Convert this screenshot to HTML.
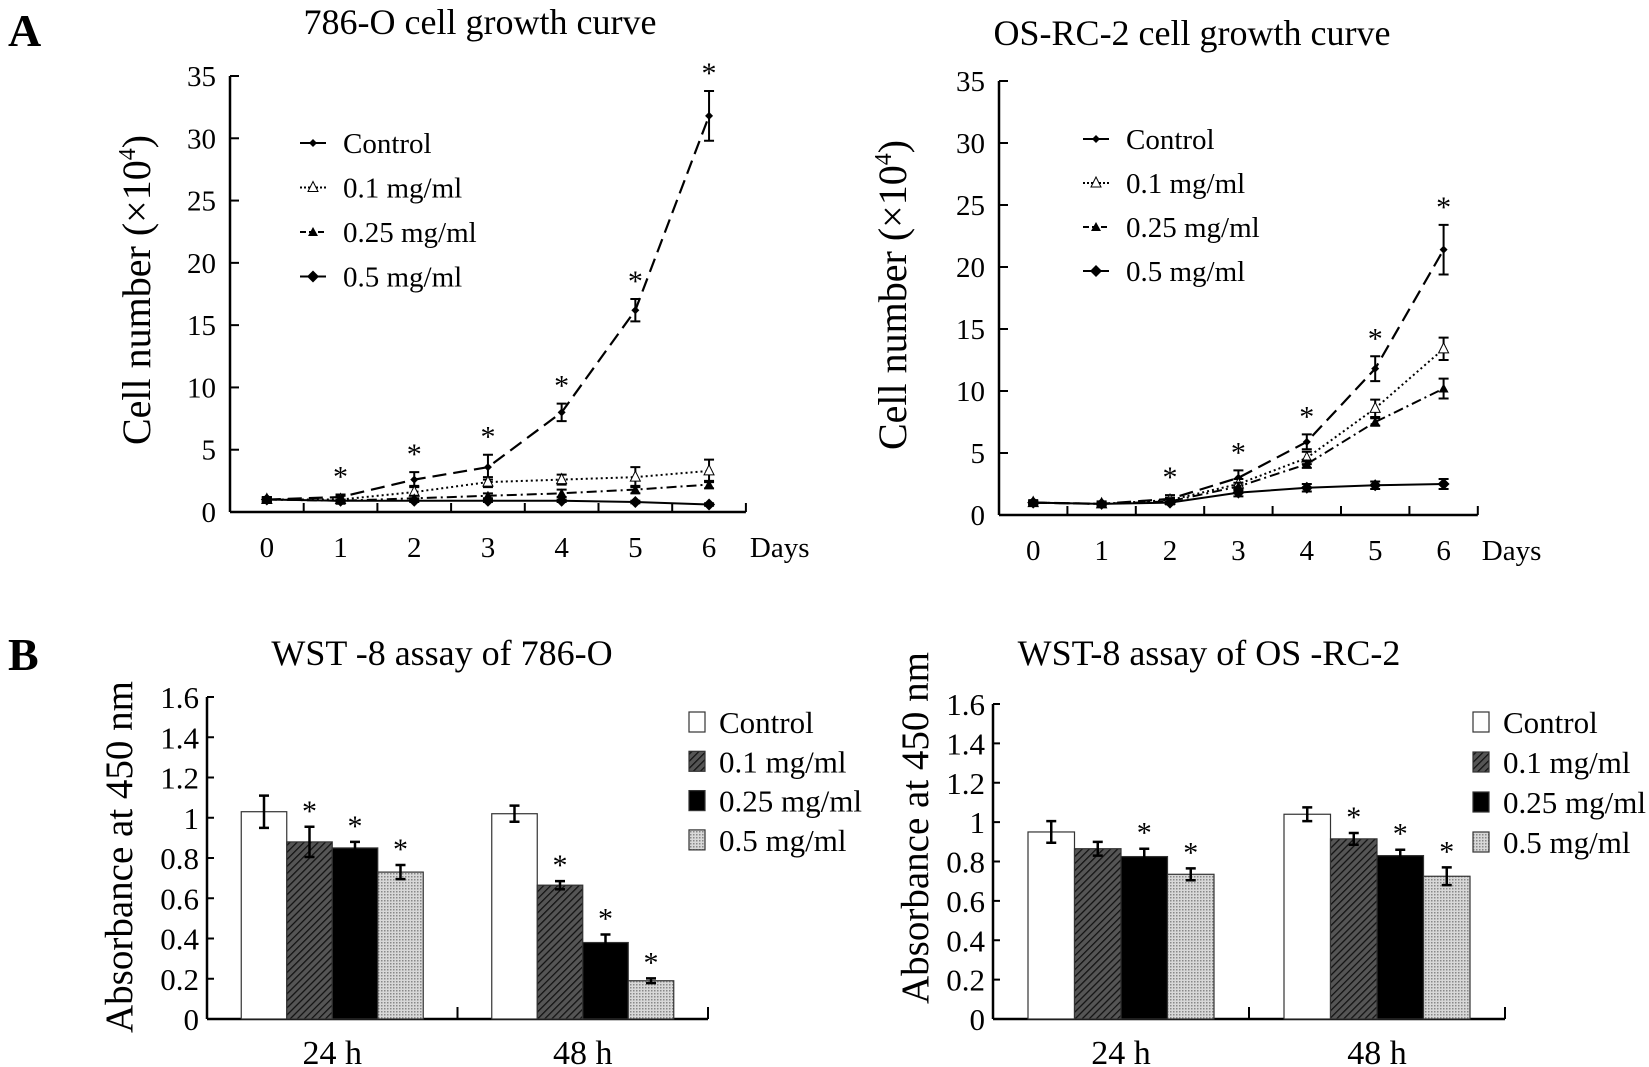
<!DOCTYPE html>
<html><head><meta charset="utf-8">
<style>
html,body{margin:0;padding:0;background:#fff;}
svg{display:block;font-family:"Liberation Serif",serif;}
</style></head>
<body>
<svg id="fig" width="1649" height="1067" viewBox="0 0 1649 1067" xmlns="http://www.w3.org/2000/svg">
<defs>
<pattern id="hatch" width="5" height="5" patternUnits="userSpaceOnUse" patternTransform="rotate(45)">
<rect width="5" height="5" fill="#555"/><line x1="0" y1="0" x2="0" y2="5" stroke="#111" stroke-width="2.5"/></pattern>
<pattern id="dots" width="3" height="3" patternUnits="userSpaceOnUse">
<rect width="3" height="3" fill="#d8d8d8"/><rect width="1.5" height="1.5" fill="#888"/></pattern>
</defs>
<text x="8" y="46" font-size="46" font-weight="bold">A</text>
<text x="8" y="670" font-size="46" font-weight="bold">B</text>
</svg>
<script>
// ---------- data ----------
const days = [0,1,2,3,4,5,6];
const lineSeriesNames = ["Control","0.1 mg/ml","0.25 mg/ml","0.5 mg/ml"];
const a1Control = [1,1.2,2.6,3.6,8,16.2,31.8];
const a1Control_err = [0.2,0.2,0.6,1,0.7,0.9,2];
const a1Low = [1,1,1.6,2.4,2.6,2.8,3.3];
const a1Low_err = [0.2,0.3,0.5,0.4,0.4,0.8,0.9];
const a1Mid = [1,0.9,1.1,1.3,1.5,1.8,2.2];
const a1Mid_err = [0.1,0.1,0.2,0.2,0.3,0.3,0.3];
const a1High = [1,0.9,0.9,0.9,0.9,0.8,0.6];
const a1High_err = [0.1,0.1,0.1,0.1,0.1,0.1,0.1];
const a1Stars = [false,true,true,true,true,true,true];
const a2Control = [1,0.9,1.3,3,5.9,11.8,21.4];
const a2Control_err = [0.2,0.2,0.3,0.6,0.6,1,2];
const a2Low = [1,0.9,1.2,2.5,4.6,8.6,13.4];
const a2Low_err = [0.1,0.1,0.2,0.4,0.5,0.7,0.9];
const a2Mid = [1,0.9,1.1,2.3,4.1,7.5,10.2];
const a2Mid_err = [0.1,0.1,0.2,0.3,0.3,0.3,0.8];
const a2High = [1,0.9,1.0,1.8,2.2,2.4,2.5];
const a2High_err = [0.1,0.1,0.1,0.3,0.3,0.3,0.4];
const a2Stars = [false,false,true,true,true,true,true];
const lineTicks = [0,5,10,15,20,25,30,35];

const groups = ["24 h","48 h"];
const barSeriesNames = ["Control","0.1 mg/ml","0.25 mg/ml","0.5 mg/ml"];
const b1Vals24 = [1.03,0.88,0.85,0.73];
const b1Err24 = [0.08,0.075,0.03,0.035];
const b1Vals48 = [1.02,0.665,0.38,0.19];
const b1Err48 = [0.04,0.02,0.04,0.012];
const b1Stars24 = [false,true,true,true];
const b1Stars48 = [false,true,true,true];
const b2Vals24 = [0.95,0.865,0.825,0.735];
const b2Err24 = [0.055,0.035,0.04,0.03];
const b2Vals48 = [1.04,0.915,0.83,0.725];
const b2Err48 = [0.035,0.03,0.03,0.045];
const b2Stars24 = [false,false,true,true];
const b2Stars48 = [false,true,true,true];
const barTicks = [0,0.2,0.4,0.6,0.8,1,1.2,1.4,1.6];
const barTickLabels = ["0","0.2","0.4","0.6","0.8","1","1.2","1.4","1.6"];

// ---------- helpers ----------
const NS="http://www.w3.org/2000/svg";
const svg=document.getElementById('fig');
function mk(tag,attrs,parent){const e=document.createElementNS(NS,tag);for(const k in attrs)e.setAttribute(k,attrs[k]);(parent||svg).appendChild(e);return e;}
function txt(x,y,s,size,anchor,parent){const t=mk('text',{x:x,y:y,'font-size':size,'text-anchor':anchor||'start'},parent);t.textContent=s;return t;}

const lineStyles=[
 {dash:"14,7",w:2.2,marker:"cross"},
 {dash:"2,3",w:2,marker:"opentri"},
 {dash:"10,4,2,4",w:2,marker:"tri"},
 {dash:"",w:2,marker:"diamond"}];

function marker(type,x,y,g){
 if(type==="diamond") mk('path',{d:`M${x} ${y-6}L${x+6} ${y}L${x} ${y+6}L${x-6} ${y}Z`,fill:'#000'},g);
 else if(type==="tri") mk('path',{d:`M${x} ${y-5}L${x+5} ${y+4}L${x-5} ${y+4}Z`,fill:'#000'},g);
 else if(type==="opentri") mk('path',{d:`M${x} ${y-6}L${x+5} ${y+4}L${x-5} ${y+4}Z`,fill:'#fff',stroke:'#000','stroke-width':1},g);
 else {mk('path',{d:`M${x} ${y-4}L${x+4} ${y}L${x} ${y+4}L${x-4} ${y}Z`,fill:'#000'},g);}
}

function lineChart(o){
 const g=mk('g',{});
 
 
 const xs=i=>o.ax+(i+0.5)*o.step;
 const ys=v=>o.y0-(v/35)*(o.y0-o.y35);
 const right=o.ax+7*o.step;
 const title=txt(o.titleX,o.titleY,o.title,36,'middle',g);
 
 
 mk('line',{x1:o.ax,y1:o.y0,x2:o.ax,y2:o.y35,stroke:'#000','stroke-width':2.5},g);
 mk('line',{x1:o.ax,y1:o.y0,x2:right,y2:o.y0,stroke:'#000','stroke-width':2.5},g);
 lineTicks.forEach(t=>{const y=ys(t);mk('line',{x1:o.ax,y1:y,x2:o.ax+9,y2:y,stroke:'#000','stroke-width':2},g);
  const l=txt(o.ax-14,y+10,String(t),29,'end',g);
  
  });
 for(let i=1;i<=7;i++){mk('line',{x1:o.ax+i*o.step,y1:o.y0,x2:o.ax+i*o.step,y2:o.y0-9,stroke:'#000','stroke-width':2},g);}
 days.forEach((d,i)=>{const l=txt(xs(i),o.y0+45,String(d),29,'middle',g);
  
  });
 const dl=txt(right+4,o.y0+45,'Days',29,'start',g);
 
 
 const yt=mk('text',{x:0,y:0,'font-size':40,'text-anchor':'middle',transform:`translate(${o.ytX},${o.ytY}) rotate(-90)`},g);
 yt.innerHTML='Cell number (×10<tspan dy="-15" font-size="24">4</tspan><tspan dy="15">)</tspan>';
 
 
 o.series.forEach((s,si)=>{
  const st=lineStyles[si];
  const sg=mk('g',{},g);
  
  
  const pts=s.v.map((v,i)=>xs(i)+','+ys(v)).join(' ');
  mk('polyline',{points:pts,fill:'none',stroke:'#000','stroke-width':st.w,'stroke-dasharray':st.dash},sg);
  s.v.forEach((v,i)=>{const x=xs(i),e=s.e[i];
   mk('path',{d:`M${x} ${ys(v+e)}V${ys(v-e)}M${x-5} ${ys(v+e)}H${x+5}M${x-5} ${ys(v-e)}H${x+5}`,stroke:'#000','stroke-width':2,fill:'none'},sg);
   marker(st.marker,x,ys(v),sg);});
 });
 const top=o.series[0];
 o.stars.forEach((s,i)=>{if(!s)return;const a=txt(xs(i),ys(top.v[i]+top.e[i])-8,'*',30,'middle',g);
  
  });
 lineSeriesNames.forEach((n,i)=>{const y=o.legY+i*o.legDy;const st=lineStyles[i];
  const lg=mk('g',{},g);
  
  
  mk('line',{x1:o.legX,y1:y,x2:o.legX+26,y2:y,stroke:'#000','stroke-width':2,'stroke-dasharray':i===1?'2,2':(i===2?'6,3':'')},lg);
  marker(st.marker,o.legX+13,y,lg);
  txt(o.legX+43,y+10,n,29,'start',lg);});
}

lineChart({name:'chart-786o-growth',ax:230,step:73.7,y0:512,y35:76,title:'786-O cell growth curve',titleX:480,titleY:34,ytX:150,ytY:290,
 legX:300,legY:143,legDy:44.5,stars:a1Stars,
 series:[{v:a1Control,e:a1Control_err},{v:a1Low,e:a1Low_err},{v:a1Mid,e:a1Mid_err},{v:a1High,e:a1High_err}]});
lineChart({name:'chart-osrc2-growth',ax:999,step:68.4,y0:515,y35:81,title:'OS-RC-2 cell growth curve',titleX:1192,titleY:45,ytX:906,ytY:295,
 legX:1083,legY:139,legDy:44,stars:a2Stars,
 series:[{v:a2Control,e:a2Control_err},{v:a2Low,e:a2Low_err},{v:a2Mid,e:a2Mid_err},{v:a2High,e:a2High_err}]});

const barFills=['#fff','url(#hatch)','#000','url(#dots)'];
function barChart(o){
 const g=mk('g',{});
 
 
 const ys=v=>o.y0-(v/1.6)*(o.y0-o.ytop);
 const t=txt(o.titleX,o.titleY,o.title,36,'middle',g);
 
 
 mk('line',{x1:o.ax,y1:o.y0,x2:o.ax,y2:o.ytop,stroke:'#000','stroke-width':2.5},g);
 mk('line',{x1:o.ax,y1:o.y0,x2:o.xr,y2:o.y0,stroke:'#000','stroke-width':2.5},g);
 [o.ax,(o.ax+o.xr)/2,o.xr].forEach(x=>mk('line',{x1:x,y1:o.y0,x2:x,y2:o.y0-12,stroke:'#000','stroke-width':2},g));
 barTicks.forEach((v,i)=>{const y=ys(v);mk('line',{x1:o.ax,y1:y,x2:o.ax+7,y2:y,stroke:'#000','stroke-width':2},g);
  const l=txt(o.ax-8,y+11,barTickLabels[i],31,'end',g);
  
  });
 const yt=txt(0,0,'Absorbance at 450 nm',39,'middle',g);
 yt.setAttribute('transform',`translate(${o.ytX},${o.ytY}) rotate(-90)`);
 
 
 const half=(o.xr-o.ax)/2;
 o.data.forEach((grp,gi)=>{
  const gx=o.ax+gi*half+(half-4*o.bw)/2;
  const gl=txt(gx+2*o.bw,o.y0+45,groups[gi],34,'middle',g);
  
  
  grp.v.forEach((v,i)=>{const x=gx+i*o.bw;
   const r=mk('rect',{x:x,y:ys(v),width:o.bw,height:o.y0-ys(v),fill:barFills[i],stroke:'#333','stroke-width':1.2},g);
   
   
   const cx=x+o.bw/2,e=grp.e[i];
   mk('path',{d:`M${cx} ${ys(v+e)}V${ys(v-e)}M${cx-5} ${ys(v+e)}H${cx+5}M${cx-5} ${ys(v-e)}H${cx+5}`,stroke:'#000','stroke-width':2.5,fill:'none'},g);
   if(grp.s[i]){const a=txt(cx,ys(v+e)-6,'*',30,'middle',g);
    
    }
  });
 });
 barSeriesNames.forEach((n,i)=>{const y=o.legY+i*o.legDy;
  const lg=mk('g',{},g);
  
  
  mk('rect',{x:o.legX,y:y-10,width:16,height:20,fill:barFills[i],stroke:'#333','stroke-width':1.2},lg);
  txt(o.legX+30,y+11,n,31,'start',lg);});
}
barChart({name:'chart-786o-wst8',ax:207,xr:708,y0:1019,ytop:697,bw:45.5,title:'WST -8 assay of 786-O',titleX:442,titleY:665,ytX:132,ytY:857,
 legX:689,legY:722,legDy:39.3,data:[{v:b1Vals24,e:b1Err24,s:b1Stars24},{v:b1Vals48,e:b1Err48,s:b1Stars48}]});
barChart({name:'chart-osrc2-wst8',ax:993,xr:1505,y0:1019,ytop:704,bw:46.5,title:'WST-8 assay of OS -RC-2',titleX:1209,titleY:665,ytX:928,ytY:828,
 legX:1473,legY:722,legDy:40,data:[{v:b2Vals24,e:b2Err24,s:b2Stars24},{v:b2Vals48,e:b2Err48,s:b2Stars48}]});
</script>
</body></html>
